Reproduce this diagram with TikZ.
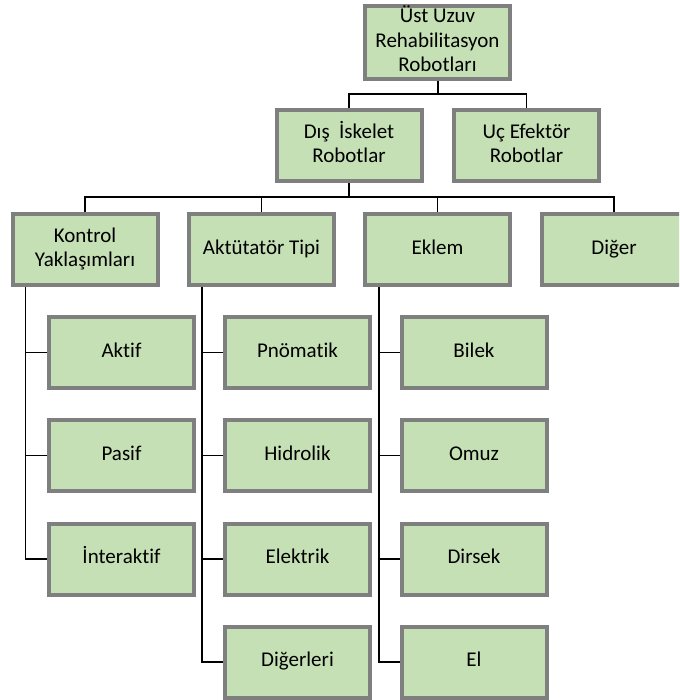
\documentclass[tikz,border=0pt]{standalone}
\usepackage{fontspec}
\setmainfont{Carlito}[Ligatures={NoCommon}]
\usetikzlibrary{backgrounds}
\definecolor{boxfill}{HTML}{C5E0B4}
\definecolor{boxline}{HTML}{7F7F7F}
\begin{document}
\begin{tikzpicture}[x=1pt,y=-1pt,
  box/.style={draw=boxline,fill=boxfill,line width=4pt,minimum width=145pt,minimum height=71pt,
    inner sep=0pt,align=center,font=\fontsize{21}{24.5}\selectfont},
  conn/.style={draw=black,line width=1.2pt},
  connb/.style={draw=black,line width=2pt},
  connc/.style={draw=black,line width=2.8pt}]
\useasboundingbox (0,0) rectangle (679,700);
\clip (0,0) rectangle (679,700);
\node[box] (top) at (437.5,42.5) {\strut Üst Uzuv\\\strut Rehabilitasyon\\\strut Robotları};
\node[box] (dis) at (349,145.5) {\strut Dış\ \ İskelet\\\strut Robotlar};
\node[box] (uc) at (526.5,145.5) {\strut Uç Efektör\\\strut Robotlar};
\node[box] (kon) at (85,249.5) {\strut Kontrol\\\strut Yaklaşımları};
\node[box] (akt) at (261.5,249.5) {\strut Aktütatör Tipi};
\node[box] (ekl) at (437.5,249.5) {\strut Eklem};
\node[box] (dig) at (614,249.5) {\strut Diğer};
\node[box] (aktif) at (121.5,352.5) {\strut Aktif};
\node[box] (pasif) at (121.5,455.5) {\strut Pasif};
\node[box] (inter) at (121.5,559) {\strut İnteraktif};
\node[box] (pno) at (297.5,352.5) {\strut Pnömatik};
\node[box] (hid) at (297.5,455.5) {\strut Hidrolik};
\node[box] (ele) at (297.5,559) {\strut Elektrik};
\node[box] (dil) at (297.5,662) {\strut Diğerleri};
\node[box] (bil) at (474,352.5) {\strut Bilek};
\node[box] (omu) at (474,455.5) {\strut Omuz};
\node[box] (dir) at (474,559) {\strut Dirsek};
\node[box] (el) at (474,662) {\strut El};
\begin{pgfonlayer}{background}
\coordinate (b1) at (437.5,94);
\coordinate (b2) at (349,197);
\draw[connb] (top.south) -- (b1);
\draw[conn] (dis.north) |- (b1) -| (uc.north);
\draw[connb] (dis.south) -- (b2);
\draw[conn] (kon.north) |- (b2) -| (dig.north);
\draw[conn] (akt.north) -- (akt.north |- b2);
\draw[conn] (ekl.north) -- (ekl.north |- b2);
\draw[conn] ([xshift=15pt]kon.south west) |- (aktif.west);
\draw[conn] ([xshift=15pt]kon.south west) |- (pasif.west);
\draw[conn] ([xshift=15pt]kon.south west) |- (inter.west);
\draw[conn] ([xshift=15pt]akt.south west) |- (pno.west);
\draw[conn] ([xshift=15pt]akt.south west) |- (hid.west);
\draw[conn] ([xshift=15pt]akt.south west) |- (ele.west);
\draw[conn] ([xshift=15pt]akt.south west) |- (dil.west);
\draw[conn] ([xshift=16pt]ekl.south west) |- (bil.west);
\draw[conn] ([xshift=16pt]ekl.south west) |- (omu.west);
\draw[conn] ([xshift=16pt]ekl.south west) |- (dir.west);
\draw[connc] ([xshift=16pt]ekl.south west) |- (el.west);
\end{pgfonlayer}
\end{tikzpicture}
\end{document}
